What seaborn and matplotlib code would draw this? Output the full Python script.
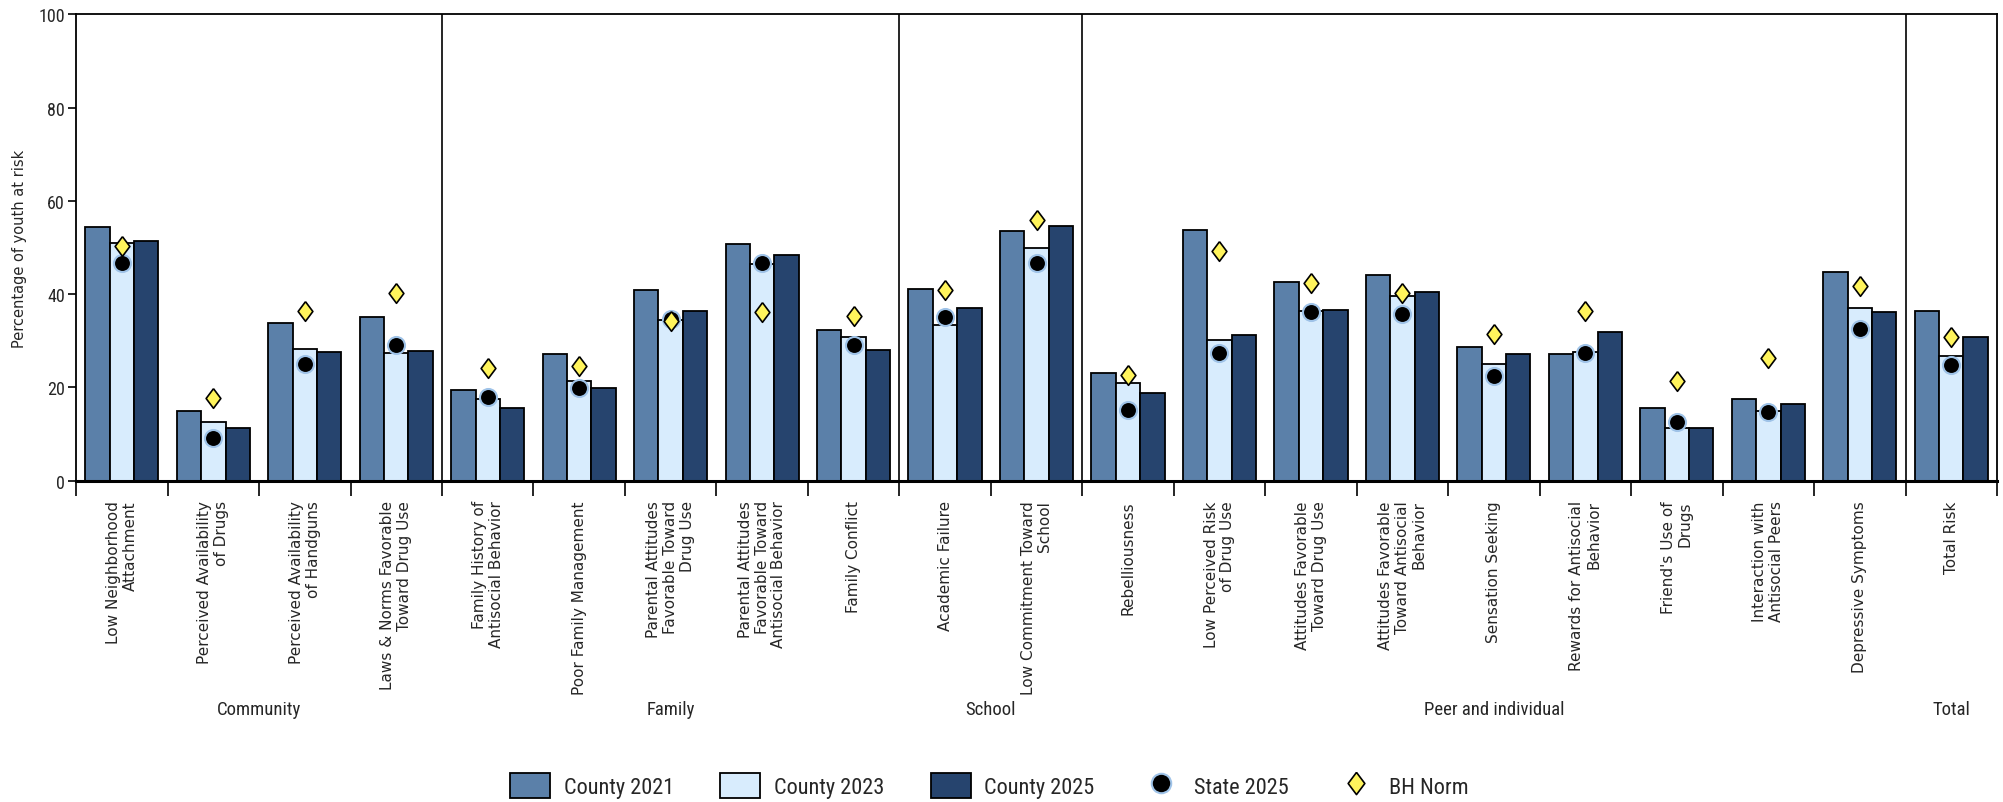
import numpy as np
import pandas as pd
import matplotlib
matplotlib.use("Agg")
import matplotlib.pyplot as plt
from matplotlib import font_manager as fm
from matplotlib.lines import Line2D
from matplotlib.patches import Patch
import seaborn as sns

# risk factors, in chart order
risk_labels = [
    "Low Neighborhood\nAttachment",
    "Perceived Availability\nof Drugs",
    "Perceived Availability\nof Handguns",
    "Laws & Norms Favorable\nToward Drug Use",
    "Family History of\nAntisocial Behavior",
    "Poor Family Management",
    "Parental Attitudes\nFavorable Toward\nDrug Use",
    "Parental Attitudes\nFavorable Toward\nAntisocial Behavior",
    "Family Conflict",
    "Academic Failure",
    "Low Commitment Toward\nSchool",
    "Rebelliousness",
    "Low Perceived Risk\nof Drug Use",
    "Attitudes Favorable\nToward Drug Use",
    "Attitudes Favorable\nToward Antisocial\nBehavior",
    "Sensation Seeking",
    "Rewards for Antisocial\nBehavior",
    "Friend's Use of\nDrugs",
    "Interaction with\nAntisocial Peers",
    "Depressive Symptoms",
    "Total Risk",
]
domains = ["Community", "Family", "School", "Peer and individual", "Total"]
domain_sizes = [4, 5, 2, 9, 1]

county_2021 = [54.3, 15.0, 33.9, 35.2, 19.5, 27.1, 41.0, 50.7, 32.4, 41.1, 53.6,
               23.1, 53.7, 42.6, 44.1, 28.6, 27.2, 15.5, 17.6, 44.8, 36.4]
county_2023 = [51.0, 12.5, 28.3, 27.4, 17.6, 21.3, 34.5, 46.4, 30.9, 33.5, 50.0,
               21.0, 30.1, 36.4, 39.7, 25.0, 27.6, 11.3, 15.0, 37.1, 26.8]
county_2025 = [51.4, 11.4, 27.6, 27.9, 15.5, 19.9, 36.4, 48.5, 28.0, 37.1, 54.7,
               18.8, 31.2, 36.7, 40.4, 27.2, 32.0, 11.4, 16.5, 36.1, 30.9]
state_2025 = [46.7, 9.2, 25.1, 29.1, 17.9, 19.9, 34.6, 46.7, 29.2, 35.1, 46.7,
              15.2, 27.5, 36.2, 35.8, 22.4, 27.3, 12.5, 14.7, 32.6, 24.9]
bh_norm = [50.4, 17.8, 36.4, 40.2, 24.1, 24.7, 34.2, 36.1, 35.4, 40.8, 55.9,
           22.6, 49.3, 42.3, 40.2, 31.5, 36.5, 21.3, 26.3, 41.7, 30.9]

series_names = ["County 2021", "County 2023", "County 2025"]
bar_colors = ["#5b80a9", "#d8ecfd", "#26446e"]

df = pd.DataFrame({
    "risk": risk_labels * 3,
    "series": np.repeat(series_names, len(risk_labels)),
    "value": county_2021 + county_2023 + county_2025,
})

sns.set_style("white")

# pick a narrow face for the short labels if one is installed
names = {f.name for f in fm.fontManager.ttflist}
stretched = {(f.name, f.stretch) for f in fm.fontManager.ttflist}
if "Liberation Sans Narrow" in names:
    cond = dict(family="Liberation Sans Narrow")
    sizes = (16, 13.5, 13)
elif "Roboto Condensed" in names:
    cond = dict(family="Roboto Condensed")
    sizes = (16, 13.5, 13)
elif ("DejaVu Sans", "condensed") in stretched:
    cond = dict(family="DejaVu Sans", stretch="condensed")
    sizes = (14, 12, 12)
else:
    cond = dict(family="Roboto")
    sizes = (14, 12, 12.5)
leg_size, grp_size, ytick_size = sizes

fig, ax = plt.subplots(figsize=(20.03, 8.03), dpi=100)
fig.subplots_adjust(left=0.038, right=0.997, top=0.981, bottom=0.40)

sns.barplot(data=df, x="risk", y="value", hue="series", order=risk_labels,
            hue_order=series_names, palette=bar_colors, saturation=1,
            edgecolor="black", linewidth=1.3, width=0.8, errorbar=None,
            legend=False, ax=ax, zorder=2)

xpos = np.arange(len(risk_labels))
diamond = [(0, 1), (0.75, 0), (0, -1), (-0.75, 0), (0, 1)]
sns.scatterplot(x=xpos, y=state_2025, marker="o", s=150, color="black",
                edgecolor="#9fc3e8", linewidth=1.5, zorder=4, ax=ax, legend=False)
sns.scatterplot(x=xpos, y=bh_norm, marker=diamond, s=200, color="#fff45c",
                edgecolor="black", linewidth=1.2, zorder=5, ax=ax, legend=False)

ax.set_xlim(-0.5, len(risk_labels) - 0.5)
ax.set_ylim(0, 100)

# domain separators and domain names
bounds = np.cumsum(domain_sizes) - 0.5
for b in bounds[:-1]:
    ax.axvline(b, color="black", lw=1.2, zorder=1)
starts = np.concatenate([[-0.5], bounds[:-1]])
trans = matplotlib.transforms.blended_transform_factory(ax.transData, ax.transAxes)
for name, s0, s1 in zip(domains, starts, bounds):
    ax.text((s0 + s1) / 2, -0.49, name, transform=trans, ha="center", va="center",
            fontproperties=fm.FontProperties(size=grp_size, **cond))

ax.set_xticks(xpos)
ax.set_xticklabels(risk_labels, rotation=90, ha="center", va="top",
                   multialignment="right", fontsize=11, linespacing=1.15)
ax.set_xticks(np.arange(-0.5, len(risk_labels)), minor=True)
ax.tick_params(axis="x", which="major", length=0, pad=14)
ax.tick_params(axis="x", which="minor", length=11, width=1.2, color="black",
               direction="out", bottom=True)
ax.set_xlabel("")

ax.set_yticks([0, 20, 40, 60, 80, 100])
ax.tick_params(axis="y", length=6, width=1.2, color="black", direction="out",
               left=True, pad=2)
for t in ax.get_yticklabels():
    t.set_fontproperties(fm.FontProperties(size=ytick_size, **cond))
ax.set_ylabel("Percentage of youth at risk", fontsize=10.5, labelpad=8)

for side in ["top", "right", "left"]:
    ax.spines[side].set_color("black")
    ax.spines[side].set_linewidth(1.3)
ax.spines["bottom"].set_color("black")
ax.spines["bottom"].set_linewidth(2.2)

handles = [Patch(facecolor=c, edgecolor="black", linewidth=1.3) for c in bar_colors]
handles.append(Line2D([], [], marker="o", ls="none", markersize=14,
                      markerfacecolor="black", markeredgecolor="#9fc3e8", markeredgewidth=1.5))
handles.append(Line2D([], [], marker=diamond, ls="none", markersize=16,
                      markerfacecolor="#fff45c", markeredgecolor="black", markeredgewidth=1.2))
fig.legend(handles, series_names + ["State 2025", "BH Norm"], loc="center",
           bbox_to_anchor=(0.494, 0.021), ncol=5, frameon=False,
           prop=fm.FontProperties(size=leg_size, **cond), handlelength=1.8,
           handleheight=1.35, columnspacing=2.1, handletextpad=0.6)

fig.savefig("out.png", dpi=100)
